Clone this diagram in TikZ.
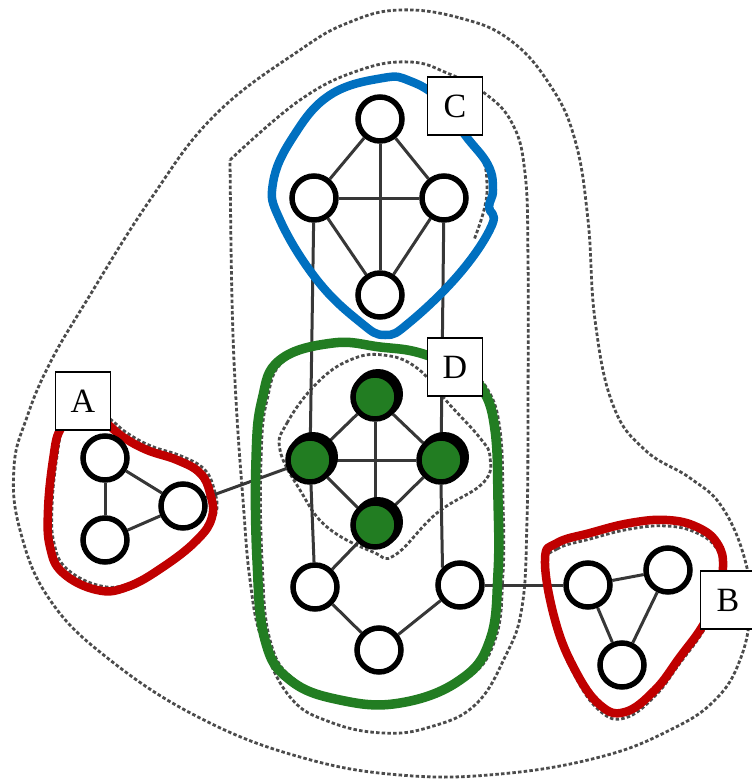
\documentclass[tikz,border=0pt]{standalone}
\usepackage{fontspec}
\setmainfont{Liberation Serif}
\definecolor{cblue}{RGB}{0,112,192}
\definecolor{cgreen}{RGB}{34,125,34}
\definecolor{cred}{RGB}{192,0,0}
\definecolor{cdash}{RGB}{75,75,75}
\definecolor{cedge}{RGB}{55,55,55}
\pgfdeclarelayer{back}
\pgfsetlayers{back,main}
\begin{document}
\begin{tikzpicture}[x=1pt,y=-1pt,
  dsh/.style={draw=cdash, line width=2.8pt, dash pattern=on 3.5pt off 2.2pt},
  vtx/.style={circle, draw=black, line width=5.5pt, fill=white, minimum size=44pt, inner sep=0pt},
  gvtx/.style={vtx, fill=cgreen},
  edge/.style={draw=cedge, line width=3pt},
  lbl/.style={draw=black, line width=1.2pt, fill=white, minimum width=55pt, minimum height=58pt, inner sep=0pt, font=\fontsize{34}{34}\selectfont},
  loopline/.style={line width=8.5pt, line join=round}]
\useasboundingbox (0,0) rectangle (752,779);

% vertices
\node[vtx] (C1) at (380,119) {};
\node[vtx] (C2) at (314,198) {};
\node[vtx] (C3) at (444,198) {};
\node[vtx] (C4) at (380,295) {};

\node[gvtx] (D1) at (375,397) {};
\node[gvtx] (D2) at (310,460) {};
\node[gvtx] (D3) at (441,460) {};
\node[gvtx] (D4) at (375,525) {};

\node[vtx] (E1) at (315,587) {};
\node[vtx] (E2) at (460,585) {};
\node[vtx] (E3) at (379,650) {};

\node[vtx] (A1) at (105,458) {};
\node[vtx] (A2) at (105,540) {};
\node[vtx] (A3) at (183,506) {};

\node[vtx] (B1) at (588,585) {};
\node[vtx] (B2) at (668,570) {};
\node[vtx] (B3) at (622,665) {};

% labels
\node[lbl] (LA) at (83,401) {A};
\node[lbl] (LB) at (728,600) {B};
\node[lbl] (LC) at (455,106) {C};
\node[lbl] (LD) at (455,367) {D};

\begin{pgfonlayer}{back}
% outer dashed region
\draw[dsh] plot[smooth cycle, tension=0.7] coordinates {
 (400,10) (460,18) (510,40) (550,85) (575,140) (588,220) (595,320) (613,405)
 (645,450) (690,478) (722,507) (745,560) (750,610) (740,660) (715,700) (670,730)
 (600,757) (500,774) (400,775) (300,757) (200,718) (110,660) (50,600) (20,530)
 (14,467) (27,417) (50,363) (87,300) (150,200) (215,115) (300,50) (350,22)};

% second dashed region (with corner at top left)
\draw[dsh] plot[smooth, tension=0.7] coordinates {
 (230,160) (300,100) (360,70) (410,62) (447,73) (483,92) (512,123) (525,173)
 (528,260) (528,400) (527,520) (522,607) (505,657) (475,705) (430,727) (383,733)
 (330,722) (290,697) (262,640) (250,580) (243,500) (236,400) (232,300) (230,160)};

% dashed region around the green vertices
\draw[dsh] plot[smooth cycle, tension=0.7] coordinates {
 (280,450) (287,423) (317,383) (350,360) (383,355) (417,368) (450,405) (480,438)
 (490,457) (483,483) (437,513) (395,555) (373,552) (327,527) (300,490)};

% dashed outlines following the coloured regions
\draw[dsh] plot[smooth, tension=0.7] coordinates {
 (462,130) (482,158) (487,185) (484,210) (474,240)};
\draw[dsh, shift={(5,0)}] plot[smooth cycle, tension=0.7] coordinates {
 (333,343) (380,347) (420,353) (460,370) (483,390) (495,430) (498,500) (498,573)
 (490,640) (460,680) (400,703) (340,700) (290,680) (265,640) (257,560) (256,460)
 (262,400) (280,360)};
\draw[dsh, shift={(4,-4)}] plot[smooth cycle, tension=0.7] coordinates {
 (60,430) (53,460) (48,510) (50,547) (63,573) (97,590) (127,587) (163,567)
 (197,540) (212,517) (210,493) (200,473) (177,460) (147,450) (123,437) (100,420) (75,420)};
\draw[dsh, shift={(0,6)}] plot[smooth cycle, tension=0.7] coordinates {
 (545,560) (557,543) (590,533) (630,523) (667,520) (697,527) (717,543) (723,567)
 (715,600) (702,627) (680,657) (655,690) (625,712) (600,705) (575,670) (555,620)};

% edges
\draw[edge] (C1) -- (C2);
\draw[edge] (C1) -- (C3);
\draw[edge] (C1) -- (C4);
\draw[edge] (C2) -- (C3);
\draw[edge] (C2) -- (C4);
\draw[edge] (C3) -- (C4);
\draw[edge] (C2) -- (D2);
\draw[edge] (C3) -- (D3);
\draw[edge] (D1) -- (D2);
\draw[edge] (D1) -- (D3);
\draw[edge] (D1) -- (D4);
\draw[edge] (D2) -- (D3);
\draw[edge] (D2) -- (D4);
\draw[edge] (D3) -- (D4);
\draw[edge] (D2) -- (E1);
\draw[edge] (D3.south) -- (E2.north west);
\draw[edge] (D4) -- (E1);
\draw[edge] (E1) -- (E3);
\draw[edge] (E2) -- (E3);
\draw[edge] (A1) -- (A2);
\draw[edge] (A1) -- (A3);
\draw[edge] (A2) -- (A3);
\draw[edge] (A3) -- (D2);
\draw[edge] (E2) -- (B1);
\draw[edge] (B1) -- (B2);
\draw[edge] (B1) -- (B3);
\draw[edge] (B2) -- (B3);

% 3-D shading of the green vertices
\fill[black] ([shift={(3,-3)}]D1.center) circle (25pt);
\fill[black] ([shift={(3,-3)}]D2.center) circle (25pt);
\fill[black] ([shift={(3,-3)}]D3.center) circle (25pt);
\fill[black] ([shift={(3,-3)}]D4.center) circle (25pt);

% coloured regions
\draw[loopline, cblue] plot[smooth cycle, tension=0.7] coordinates {
 (383,78) (410,81) (440,100) (465,135) (488,165) (493,190) (489,207) (492,225)
 (460,273) (410,322) (385,335) (360,322) (317,280) (280,220) (273,183) (293,137) (330,95)};
\draw[loopline, cgreen, line width=9.5pt] plot[smooth cycle, tension=0.7] coordinates {
 (333,343) (380,347) (420,353) (460,370) (483,390) (495,430) (498,500) (498,573)
 (490,640) (460,680) (400,703) (340,700) (290,680) (265,640) (257,560) (256,460)
 (262,400) (280,360)};
\draw[loopline, cred] plot[smooth cycle, tension=0.7] coordinates {
 (60,430) (53,460) (48,510) (50,547) (63,573) (97,590) (127,587) (163,567)
 (197,540) (212,517) (210,493) (200,473) (177,460) (147,450) (123,437) (100,420) (75,420)};
\draw[loopline, cred] plot[smooth cycle, tension=0.7] coordinates {
 (545,560) (557,543) (590,533) (630,523) (667,520) (697,527) (717,543) (723,567)
 (715,600) (702,627) (680,657) (655,690) (625,712) (600,705) (575,670) (555,620)};
\end{pgfonlayer}
\end{tikzpicture}
\end{document}
